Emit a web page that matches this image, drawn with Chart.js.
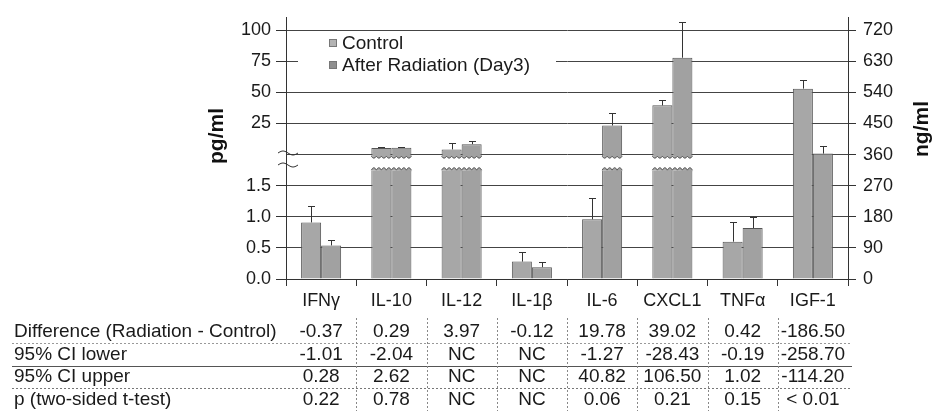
<!DOCTYPE html>
<html>
<head>
<meta charset="utf-8">
<script src="https://cdn.jsdelivr.net/npm/chart.js@4"></script>
<style>
  html, body { margin: 0; padding: 0; background: #fff; }
</style>
</head>
<body>
<canvas id="chart-area" width="944" height="419"></canvas>
<script>
// categories and measured means / upper error bar ends
var categories = ['IFNγ', 'IL-10', 'IL-12', 'IL-1β', 'IL-6', 'CXCL1', 'TNFα', 'IGF-1'];
var units = ['pg', 'pg', 'pg', 'pg', 'pg', 'pg', 'pg', 'ng'];
var control = [0.91, 5.3, 4.2, 0.28, 0.96, 39.6, 0.60, 551];
var controlErr = [1.18, 6.3, 9.4, 0.43, 1.31, 44, 0.91, 576];
var afterRad = [0.54, 5.6, 8.4, 0.19, 23.4, 77.9, 0.82, 363];
var afterRadErr = [0.63, 6.4, 11, 0.28, 33.8, 106.5, 0.99, 385];

var leftTicks = ['0.0', '0.5', '1.0', '1.5', '', '25', '50', '75', '100'];
var rightTicks = [0, 90, 180, 270, 360, 450, 540, 630, 720];

// table under the chart
var tableRows = ['Difference (Radiation - Control)', '95% CI lower', '95% CI upper', 'p (two-sided t-test)'];
var diffValues = ['-0.37', '0.29', '3.97', '-0.12', '19.78', '39.02', '0.42', '-186.50'];
var ciLower = ['-1.01', '-2.04', 'NC', 'NC', '-1.27', '-28.43', '-0.19', '-258.70'];
var ciUpper = ['0.28', '2.62', 'NC', 'NC', '40.82', '106.50', '1.02', '-114.20'];
var pValues = ['0.22', '0.78', 'NC', 'NC', '0.06', '0.21', '0.15', '< 0.01'];

var FONT = "'Liberation Sans', Arial, sans-serif";
var ctrlColor = '#a7a7a7';
var afterColor = '#a1a1a1';
var edgeColor = '#555';

// broken pg/ml axis: 0..1.5 below the break, 0..100 above it
function toSlot(v) {
  return v <= 1.5 ? v / 0.5 : 4 + v / 25;
}
function lowPart(vals) {
  return vals.map(function (v, i) {
    if (units[i] !== 'pg') return null;
    return [0, v <= 1.5 ? toSlot(v) : 3.5];
  });
}
function highPart(vals) {
  return vals.map(function (v, i) {
    if (units[i] !== 'pg' || v <= 1.5) return null;
    return [3.95, toSlot(v)];
  });
}
function ngPart(vals) {
  return vals.map(function (v, i) { return units[i] === 'ng' ? v : null; });
}

function scallops(ctx, left, right, y, dir, n, amp) {
  var w = (right - left) / n;
  ctx.moveTo(left, y);
  for (var k = 0; k < n; k++) {
    ctx.quadraticCurveTo(left + w * (k + 0.5), y - dir * amp * 2, left + w * (k + 1), y);
  }
}

var extras = {
  id: 'extras',
  afterDatasetsDraw: function (chart) {
    var ctx = chart.ctx;
    var series = [[control, controlErr, 0, ctrlColor], [afterRad, afterRadErr, 3, afterColor]];
    ctx.save();
    series.forEach(function (s) {
      s[0].forEach(function (v, i) {
        // wavy edges of broken bars
        if (units[i] === 'pg' && v > 1.5) {
          var lo = chart.getDatasetMeta(s[2]).data[i];
          var hi = chart.getDatasetMeta(s[2] + 1).data[i];
          var l = lo.x - lo.width / 2, r = lo.x + lo.width / 2;
          ctx.beginPath();
          ctx.moveTo(l, lo.y + 1);
          scallops(ctx, l, r, lo.y, 1, 4, 2.5);
          ctx.lineTo(r, lo.y + 1);
          ctx.closePath();
          ctx.fillStyle = s[3];
          ctx.fill();
          ctx.beginPath();
          scallops(ctx, l, r, lo.y, 1, 4, 2.5);
          ctx.strokeStyle = edgeColor;
          ctx.lineWidth = 1;
          ctx.stroke();

          ctx.beginPath();
          ctx.moveTo(l, hi.base - 1);
          scallops(ctx, l, r, hi.base, -1, 4, 2);
          ctx.lineTo(r, hi.base - 1);
          ctx.closePath();
          ctx.fillStyle = s[3];
          ctx.fill();
          ctx.beginPath();
          scallops(ctx, l, r, hi.base, -1, 4, 2);
          ctx.stroke();
        }
        // error bars
        var di = units[i] === 'ng' ? s[2] + 2 : (v > 1.5 ? s[2] + 1 : s[2]);
        var el = chart.getDatasetMeta(di).data[i];
        var scale = units[i] === 'ng' ? chart.scales.y2 : chart.scales.y;
        var ey = scale.getPixelForValue(units[i] === 'ng' ? s[1][i] : toSlot(s[1][i]));
        ctx.beginPath();
        ctx.strokeStyle = '#333';
        ctx.lineWidth = 1;
        ctx.moveTo(Math.round(el.x) + 0.5, el.y);
        ctx.lineTo(Math.round(el.x) + 0.5, Math.round(ey) + 0.5);
        ctx.moveTo(Math.round(el.x) - 3, Math.round(ey) + 0.5);
        ctx.lineTo(Math.round(el.x) + 4, Math.round(ey) + 0.5);
        ctx.stroke();
      });
    });
    ctx.restore();
  },
  afterDraw: function (chart) {
    var ctx = chart.ctx;
    var area = chart.chartArea;
    var x = chart.scales.x;
    ctx.save();

    // legend box inside the plot
    ctx.fillStyle = '#fff';
    ctx.fillRect(298, 31, 258, 48);
    ctx.font = '19px ' + FONT;
    ctx.textBaseline = 'middle';
    ctx.textAlign = 'left';
    [['Control', '#b3b3b3', 43], ['After Radiation (Day3)', '#8f8f8f', 65]].forEach(function (it) {
      ctx.fillStyle = it[1];
      ctx.fillRect(329, it[2] - 4, 8, 8);
      ctx.strokeStyle = '#777';
      ctx.strokeRect(329.5, it[2] - 3.5, 7, 7);
      ctx.fillStyle = '#1a1a1a';
      ctx.fillText(it[0], 342, it[2] + 1);
    });

    // axis titles
    ctx.font = 'bold 21px ' + FONT;
    ctx.textAlign = 'center';
    ctx.fillStyle = '#111';
    ctx.translate(217, 136);
    ctx.rotate(-Math.PI / 2);
    ctx.fillText('pg/ml', 0, 0);
    ctx.setTransform(1, 0, 0, 1, 0, 0);
    ctx.translate(922, 129);
    ctx.rotate(-Math.PI / 2);
    ctx.fillText('ng/ml', 0, 0);
    ctx.setTransform(1, 0, 0, 1, 0, 0);

    // break marks on the left axis
    ctx.strokeStyle = '#333';
    ctx.lineWidth = 1;
    [153, 165].forEach(function (yy) {
      ctx.beginPath();
      for (var t = 0; t <= 20; t++) {
        var px = area.left - 8 + t;
        var py = yy - 2 * Math.sin(t / 20 * Math.PI * 2);
        if (t === 0) ctx.moveTo(px, py); else ctx.lineTo(px, py);
      }
      ctx.stroke();
    });

    // table
    var rowY = [332, 354.5, 377, 399.5];
    var cols = [diffValues, ciLower, ciUpper, pValues];
    ctx.font = '19px ' + FONT;
    ctx.fillStyle = '#1a1a1a';
    ctx.textBaseline = 'middle';
    tableRows.forEach(function (label, r) {
      ctx.textAlign = 'left';
      ctx.fillText(label, 14, rowY[r]);
      ctx.textAlign = 'center';
      cols[r].forEach(function (val, i) {
        ctx.fillText(val, x.getPixelForValue(i), rowY[r]);
      });
    });
    // row dividers
    [[343.5, [2, 2], '#999'], [366.5, [], '#555'], [388.5, [2, 2], '#777']].forEach(function (d) {
      ctx.beginPath();
      ctx.setLineDash(d[1]);
      ctx.strokeStyle = d[2];
      ctx.moveTo(12, d[0]);
      ctx.lineTo(852, d[0]);
      ctx.stroke();
    });
    // column dividers
    ctx.setLineDash([2, 2]);
    ctx.strokeStyle = '#888';
    for (var i = 0; i < categories.length - 1; i++) {
      var bx = Math.round((x.getPixelForValue(i) + x.getPixelForValue(i + 1)) / 2) + 0.5;
      ctx.beginPath();
      ctx.moveTo(bx, 318);
      ctx.lineTo(bx, 411);
      ctx.stroke();
    }
    ctx.restore();
  }
};

Chart.defaults.font.family = FONT;
Chart.defaults.font.size = 18;
Chart.defaults.color = '#1a1a1a';

var ctx = document.getElementById('chart-area').getContext('2d');
var myChart = new Chart(ctx, {
  type: 'bar',
  data: {
    labels: categories,
    datasets: [
      { label: 'Control', data: lowPart(control), stack: 'c', yAxisID: 'y', backgroundColor: ctrlColor,
        borderWidth: function (c) { return units[c.dataIndex] === 'pg' && control[c.dataIndex] > 1.5 ? { left: 1, right: 1, top: 0, bottom: 0 } : 1; } },
      { label: 'Control', data: highPart(control), stack: 'c', yAxisID: 'y', backgroundColor: ctrlColor, borderWidth: 1 },
      { label: 'Control', data: ngPart(control), stack: 'c', yAxisID: 'y2', backgroundColor: ctrlColor, borderWidth: 1 },
      { label: 'After Radiation (Day3)', data: lowPart(afterRad), stack: 'a', yAxisID: 'y', backgroundColor: afterColor,
        borderWidth: function (c) { return units[c.dataIndex] === 'pg' && afterRad[c.dataIndex] > 1.5 ? { left: 1, right: 1, top: 0, bottom: 0 } : 1; } },
      { label: 'After Radiation (Day3)', data: highPart(afterRad), stack: 'a', yAxisID: 'y', backgroundColor: afterColor, borderWidth: 1 },
      { label: 'After Radiation (Day3)', data: ngPart(afterRad), stack: 'a', yAxisID: 'y2', backgroundColor: afterColor, borderWidth: 1 }
    ]
  },
  options: {
    responsive: false,
    animation: false,
    events: [],
    layout: { padding: { top: 12, left: 0, right: 0, bottom: 0 } },
    datasets: {
      bar: { barPercentage: 1, categoryPercentage: 0.57, borderColor: edgeColor }
    },
    plugins: { legend: { display: false }, tooltip: { enabled: false } },
    scales: {
      x: {
        grid: { drawOnChartArea: false, offset: true, tickLength: 7, color: '#333' },
        border: { color: '#333' },
        ticks: { padding: 4, maxRotation: 0, color: '#1a1a1a' },
        afterFit: function (s) { s.height = 140; }
      },
      y: {
        position: 'left',
        stacked: false,
        min: 0,
        max: 8.4,
        afterBuildTicks: function (s) { s.ticks = leftTicks.map(function (t, i) { return { value: i }; }); },
        ticks: { padding: 5, callback: function (v) { return leftTicks[v]; } },
        grid: { color: '#444', tickLength: 10,
          tickColor: function (c) { return c.tick && c.tick.value === 4 ? 'rgba(0,0,0,0)' : '#333'; } },
        border: { color: '#333' },
        afterFit: function (s) { s.width = 286; }
      },
      y2: {
        position: 'right',
        stacked: false,
        min: 0,
        max: 756,
        afterBuildTicks: function (s) { s.ticks = rightTicks.map(function (t) { return { value: t }; }); },
        ticks: { padding: 7, callback: function (v) { return String(v); } },
        grid: { drawOnChartArea: false, tickLength: 8, color: '#333' },
        border: { color: '#333' },
        afterFit: function (s) { s.width = 96; }
      }
    }
  },
  plugins: [extras]
});
</script>
</body>
</html>
